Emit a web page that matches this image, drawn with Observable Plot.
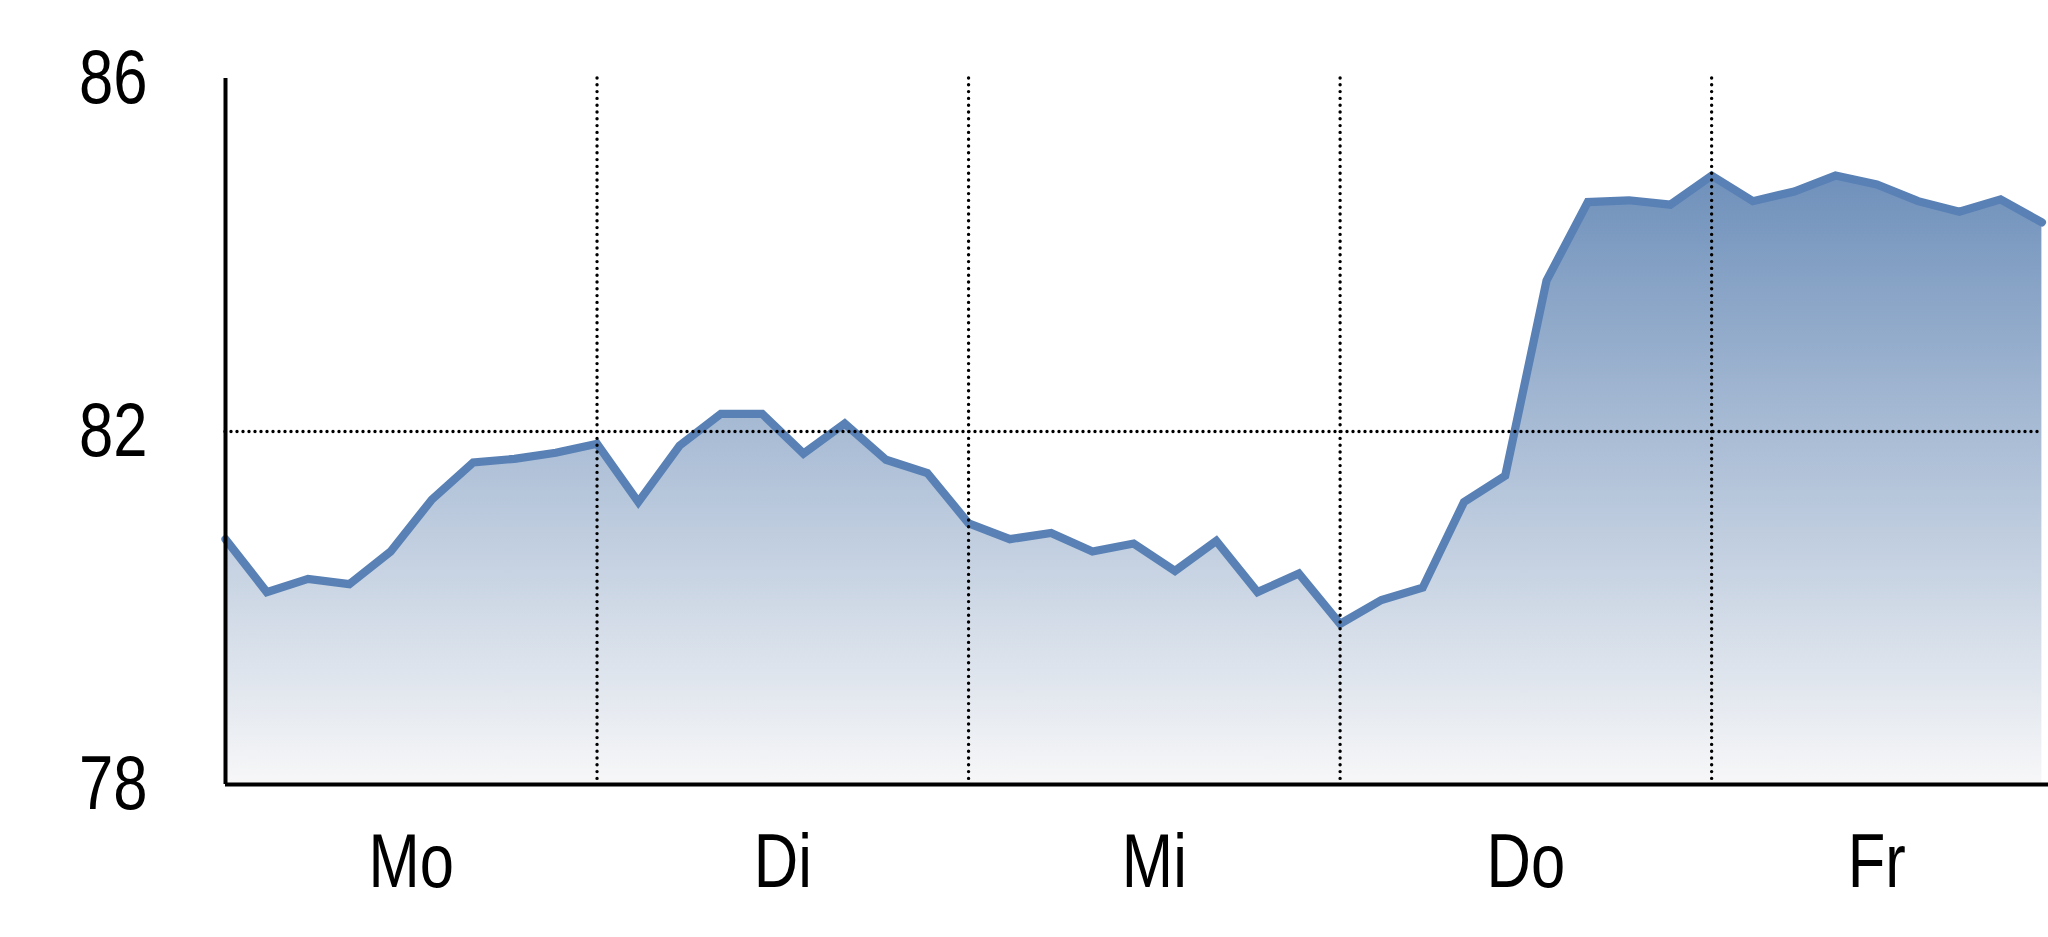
<!DOCTYPE html>
<html>
<head>
<meta charset="utf-8">
<script src="https://cdn.jsdelivr.net/npm/d3@7"></script>
<script src="https://cdn.jsdelivr.net/npm/@observablehq/plot@0.6"></script>
<style>
  html, body { margin: 0; padding: 0; background: #ffffff; }
  #chart svg { display: block; }
</style>
</head>
<body>
<div id="chart"></div>
<script>
// ---- data (hourly readings, 9 intervals per trading day) ----
const values = [
  80.78, 80.18, 80.33, 80.27, 80.64, 81.23, 81.65, 81.69, 81.76,
  81.86, 81.20, 81.84, 82.20, 82.20, 81.75, 82.09, 81.68, 81.53,
  80.96, 80.78, 80.85, 80.64, 80.73, 80.42, 80.76, 80.18, 80.39,
  79.82, 80.09, 80.23, 81.20, 81.50, 83.71, 84.60, 84.62, 84.57,
  84.90, 84.61, 84.72, 84.90, 84.80, 84.61, 84.49, 84.63, 84.37
];
const dayLabels = ["Mo", "Di", "Mi", "Do", "Fr"];
const dayCenters = [4.5, 13.5, 22.5, 31.5, 40];
const dayBounds = [9, 18, 27, 36];
const yTicks = [78, 82, 86];
const yGrid = [82];

const data = values.map((v, i) => ({i, v}));
const lastIndex = values.length - 1;

const font = "'Liberation Sans Narrow', 'Arial Narrow', 'Liberation Sans', Arial, sans-serif";

const gradientDefs = (index, scales) => {
  const defs = d3.create("svg:defs");
  const g = defs.append("linearGradient")
    .attr("id", "areaGrad")
    .attr("gradientUnits", "userSpaceOnUse")
    .attr("x1", 0).attr("x2", 0)
    .attr("y1", scales.y(85)).attr("y2", scales.y(78));
  g.append("stop").attr("offset", "0%").attr("stop-color", "#6d8fba");
  g.append("stop").attr("offset", "100%").attr("stop-color", "#f7f7f8");
  return defs.node();
};

const dotStyle = {stroke: "#000", strokeWidth: 3.4, strokeLinecap: "round"};

const chart = Plot.plot({
  width: 2048,
  height: 937,
  marginLeft: 225,
  marginRight: 0,
  marginTop: 78,
  marginBottom: 153,
  style: {fontFamily: font, fontSize: "76px", background: "#ffffff", color: "#000"},
  x: {type: "linear", domain: [0, lastIndex + 0.16]},
  y: {domain: [78, 86]},
  marks: [
    gradientDefs,
    Plot.areaY(data, {x: "i", y1: 78, y2: "v", fill: "url(#areaGrad)"}),
    Plot.lineY(data, {x: "i", y: "v", stroke: "#5981b5", strokeWidth: 8.2, strokeLinejoin: "miter", strokeMiterlimit: 10}),
    Plot.ruleX(dayBounds, {...dotStyle, strokeDasharray: "0 6.8"}),
    Plot.ruleY(yGrid, {...dotStyle, strokeDasharray: "0 6", x1: 0, x2: lastIndex}),
    Plot.ruleX([0], {stroke: "#000", strokeWidth: 4}),
    Plot.ruleY([78], {stroke: "#000", strokeWidth: 4}),
    Plot.axisY({ticks: yTicks, tickSize: 0, tickPadding: 78, fontSize: 76, tickFormat: d => String(d), label: null}),
    Plot.axisX({ticks: dayCenters, tickSize: 0, tickPadding: 49, fontSize: 76, tickFormat: (d, k) => dayLabels[k], label: null})
  ]
});
document.getElementById("chart").appendChild(chart);

// condense the tick labels to mimic a narrow typeface
d3.select(chart).selectAll("text").each(function () {
  const len = this.getComputedTextLength();
  if (len > 0) {
    this.setAttribute("textLength", (len * 0.81).toFixed(1));
    this.setAttribute("lengthAdjust", "spacingAndGlyphs");
  }
});
</script>
</body>
</html>
